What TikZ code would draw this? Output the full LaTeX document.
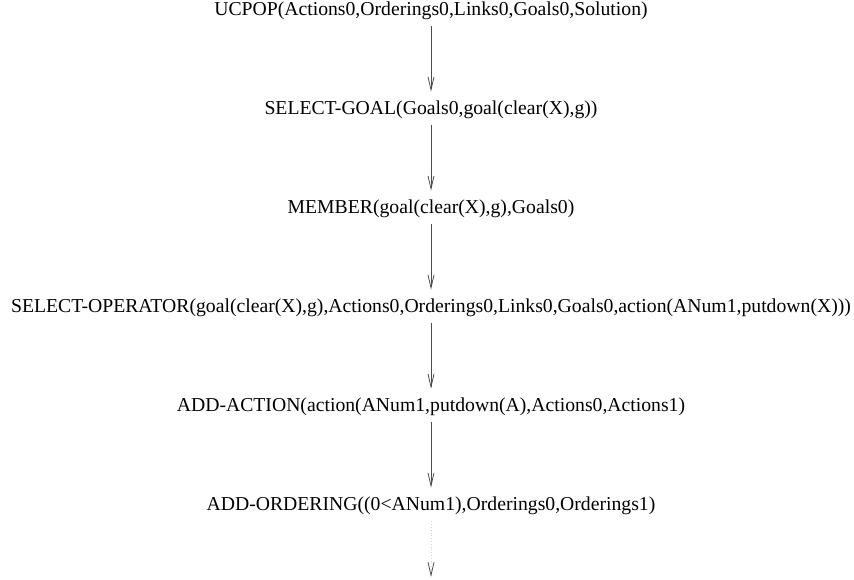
\documentclass[tikz,border=0pt]{standalone}
\usepackage{fontspec}
\setmainfont{Liberation Serif}
\usetikzlibrary{positioning, arrows.meta}

\begin{document}
\begin{tikzpicture}
	[on grid, node distance=49.5pt, inner sep=0pt, font=\fontsize{9.85}{12}\selectfont,
	 every edge/.style={draw, gray!60!black, shorten <=3pt, shorten >=4.5pt},
	 >={Straight Barb[length=6.5pt,width=3pt]}]
   \useasboundingbox (0,0) rectangle (427pt,-289.5pt);
   \node (ucpop) at (215.5pt,-5.5pt) {UCPOP(Actions0,Orderings0,Links0,Goals0,Solution)};
   \node (select_goal) [below=of ucpop] {SELECT-GOAL(Goals0,goal(clear(X),g))};
   \node (member) [below=of select_goal] {MEMBER(goal(clear(X),g),Goals0)};
   \node (select_op) [below=of member] {SELECT-OPERATOR(goal(clear(X),g),Actions0,Orderings0,Links0,Goals0,action(ANum1,putdown(X)))};
   \node (add_action) [below=of select_op] {ADD-ACTION(action(ANum1,putdown(A),Actions0,Actions1)};
   \node (add_ordering) [below=of add_action] {ADD-ORDERING((0<ANum1),Orderings0,Orderings1)};
   \coordinate [below=35.5pt of add_ordering] (tail);
    \path[->]
    (ucpop) edge (select_goal)
    (select_goal) edge (member)
    (member) edge (select_op)
    (select_op) edge (add_action)
    (add_action) edge (add_ordering)
    (add_ordering) edge [densely dotted, gray!35, shorten >=0pt,
          -{Straight Barb[length=6.5pt,width=3pt,color=gray!60!black]}] (tail);
\end{tikzpicture}
\end{document}
